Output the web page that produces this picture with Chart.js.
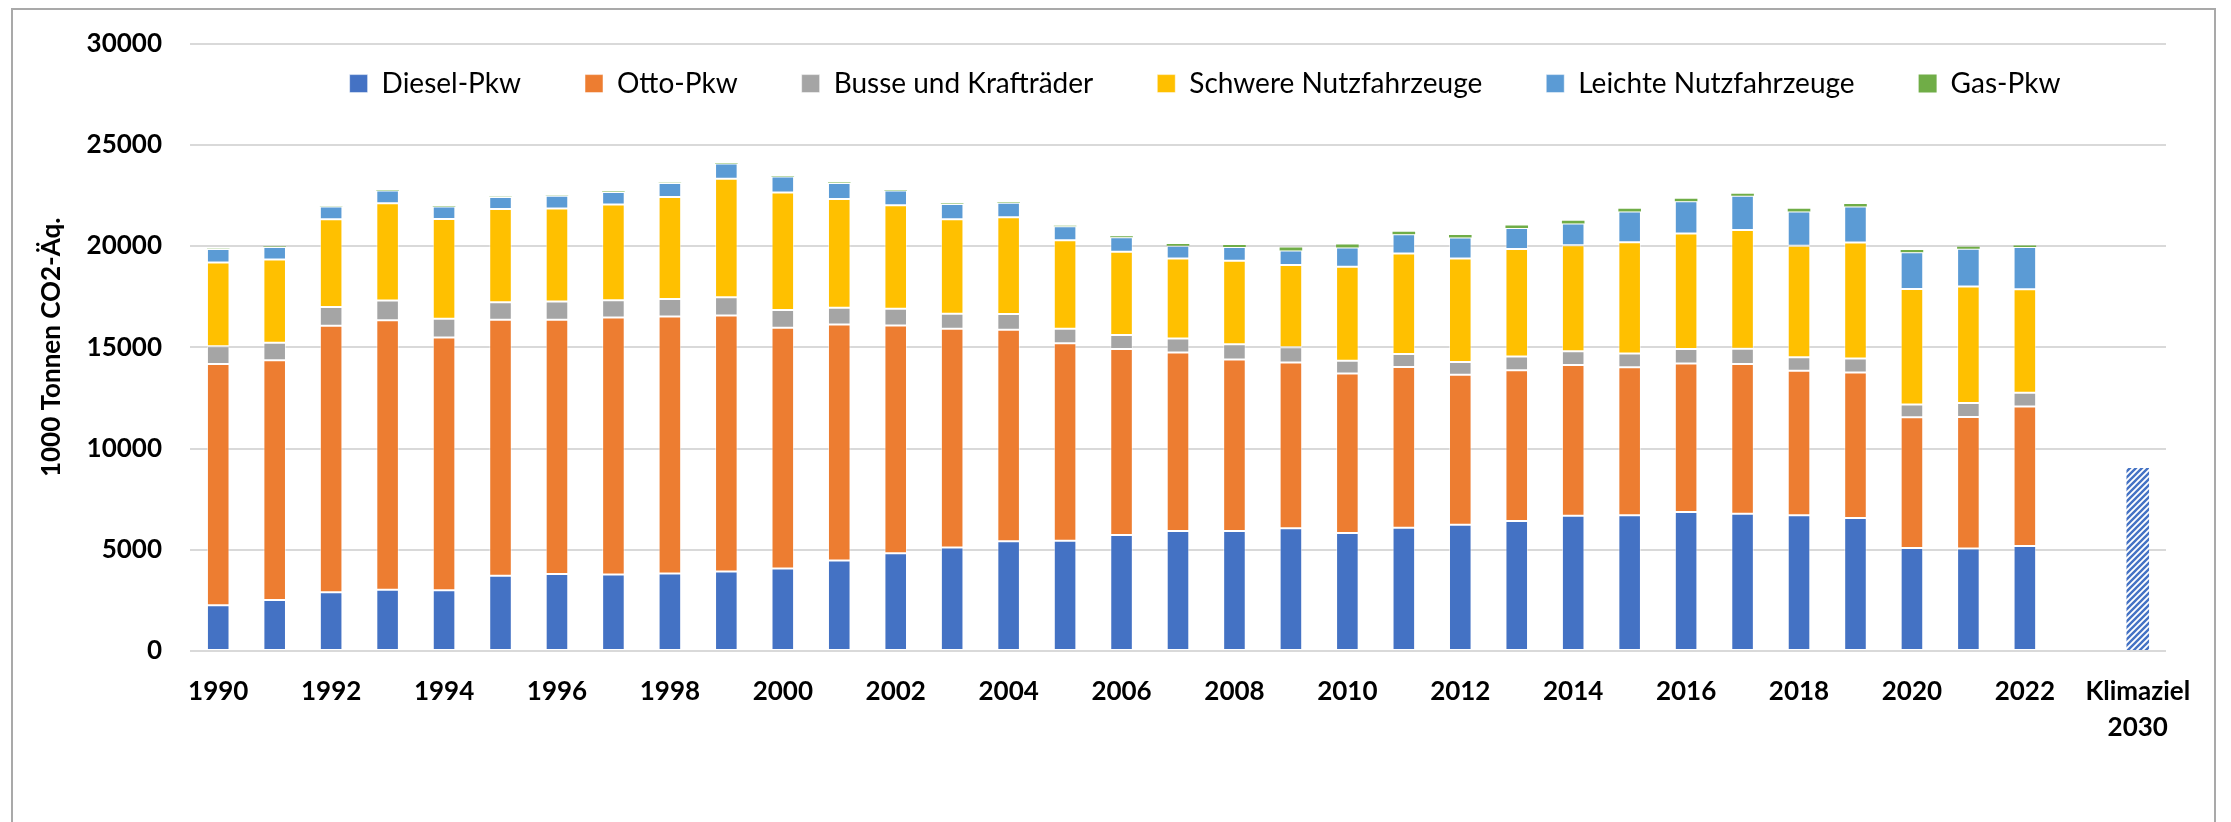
<!DOCTYPE html>
<html lang="de">
<head>
<meta charset="utf-8">
<title>Treibhausgasemissionen Verkehr</title>
<script src="https://cdn.jsdelivr.net/npm/chart.js@4.4.1/dist/chart.umd.min.js"></script>
<style>
  html, body { margin: 0; padding: 0; background: #fff; overflow: hidden; }
  #wrap { position: relative; width: 2231px; height: 822px; }
  #rahmen { position: absolute; left: 11px; top: 8px; width: 2205px; height: 840px;
            border: 2px solid #a9a9a9; box-sizing: border-box; pointer-events: none; }
  canvas { position: absolute; left: 0; top: 0; }
</style>
</head>
<body>
<div id="wrap">
  <div id="rahmen"></div>
  <canvas id="chart" width="2231" height="822"></canvas>
</div>
<script>
// Kategorien (x-Achse)
const jahre = ["1990", "1991", "1992", "1993", "1994", "1995", "1996", "1997", "1998", "1999",
               "2000", "2001", "2002", "2003", "2004", "2005", "2006", "2007", "2008", "2009",
               "2010", "2011", "2012", "2013", "2014", "2015", "2016", "2017", "2018", "2019",
               "2020", "2021", "2022", "", ["Klimaziel", "2030"]];

// Werte in 1000 t CO2-Äq.
const dieselPkw = [2260, 2520, 2900, 3030, 3000, 3720, 3800, 3780, 3830, 3930,
                   4080, 4470, 4830, 5110, 5420, 5440, 5730, 5930, 5930, 6060,
                   5830, 6090, 6240, 6420, 6680, 6700, 6860, 6780, 6700, 6570,
                   5090, 5060, 5190];
const ottoPkw = [11920, 11840, 13170, 13300, 12480, 12640, 12560, 12690, 12690, 12640,
                 11890, 11660, 11250, 10810, 10450, 9760, 9190, 8810, 8470, 8190,
                 7880, 7940, 7400, 7450, 7450, 7320, 7340, 7400, 7140, 7190,
                 6450, 6500, 6880];
const busseKrad = [870, 870, 920, 980, 930, 870, 900, 850, 870, 900,
                   870, 820, 820, 740, 770, 720, 690, 690, 750, 750,
                   620, 640, 640, 670, 670, 670, 720, 750, 670, 690,
                   640, 690, 690];
const schwereNfz = [4140, 4110, 4340, 4800, 4930, 4600, 4600, 4730, 5030, 5860,
                    5800, 5370, 5110, 4670, 4780, 4370, 4110, 3950, 4130, 4060,
                    4650, 4960, 5110, 5320, 5240, 5500, 5700, 5860, 5500, 5730,
                    5700, 5750, 5110];
const leichteNfz = [670, 620, 620, 640, 620, 590, 620, 620, 690, 750,
                    800, 800, 740, 750, 720, 690, 720, 640, 670, 720,
                    950, 950, 1030, 1030, 1080, 1520, 1590, 1700, 1700, 1770,
                    1820, 1870, 2080];
const gasPkw = [10, 20, 20, 20, 20, 20, 20, 20, 20, 20,
                20, 20, 20, 20, 20, 20, 40, 80, 100, 150,
                150, 130, 130, 130, 130, 130, 130, 100, 130, 130,
                100, 100, 80];
const klimaziel = [9040];

// y-Achse
const yTicks = [0, 5000, 10000, 15000, 20000, 25000, 30000];

// schraffiertes Muster fuer den Zielbalken
function schraffur(farbe) {
    const p = document.createElement("canvas");
    p.width = 6; p.height = 6;
    const c = p.getContext("2d");
    c.fillStyle = "#fff";
    c.fillRect(0, 0, 6, 6);
    c.strokeStyle = farbe;
    c.lineWidth = 2.4;
    c.beginPath();
    c.moveTo(0, 6); c.lineTo(6, 0);
    c.moveTo(-3, 3); c.lineTo(3, -3);
    c.moveTo(3, 9); c.lineTo(9, 3);
    c.stroke();
    return c.createPattern(p, "repeat");
}

function serie(name, werte, farbe, rand) {
    return {
        label: name,
        data: werte.concat([null, null]),
        backgroundColor: farbe,
        borderColor: "rgba(255,255,255,0.5)",
        borderWidth: rand,
        borderSkipped: false
    };
}

// Legende liegt wie im Original im Diagrammbereich
const legendeVerschieben = {
    id: "legendeVerschieben",
    afterLayout(chart) {
        const l = chart.legend;
        l.left += 27;
        l.right += 27;
        l.top -= 3;
        l.bottom = l.top + 120;
        l.height = 120;
    }
};

function zeichnen() {
    const ctx = document.getElementById("chart").getContext("2d");

    new Chart(ctx, {
        type: "bar",
        data: {
            labels: jahre,
            datasets: [
                serie("Diesel-Pkw", dieselPkw, "#4472C4", 1),
                serie("Otto-Pkw", ottoPkw, "#ED7D31", 1),
                serie("Busse und Krafträder", busseKrad, "#A5A5A5", 1),
                serie("Schwere Nutzfahrzeuge", schwereNfz, "#FFC000", 1),
                serie("Leichte Nutzfahrzeuge", leichteNfz, "#5B9BD5", 1),
                serie("Gas-Pkw", gasPkw, "#70AD47", 0),
                {
                    label: "Klimaziel",
                    data: jahre.map((j, i) => i === jahre.length - 1 ? klimaziel[0] : null),
                    backgroundColor: schraffur("#4472C4"),
                    borderWidth: 0
                }
            ]
        },
        plugins: [legendeVerschieben],
        options: {
            responsive: false,
            animation: false,
            devicePixelRatio: 1,
            layout: { padding: { top: 4, left: 12, right: 65, bottom: 0 } },
            datasets: { bar: { categoryPercentage: 1, barPercentage: 0.4 } },
            plugins: {
                tooltip: { enabled: false },
                legend: {
                    position: "top",
                    fullSize: false,
                    maxHeight: 35,
                    labels: {
                        boxWidth: 18,
                        boxHeight: 18,
                        padding: 64,
                        color: "#000",
                        font: { family: "Lato", size: 28 },
                        filter: item => item.text !== "Klimaziel"
                    }
                }
            },
            scales: {
                x: {
                    stacked: true,
                    grid: { display: false },
                    border: { display: false },
                    afterFit: scale => { scale.height = 171; },
                    ticks: {
                        autoSkip: false,
                        maxRotation: 0,
                        padding: 15,
                        color: "#000",
                        font: { family: "Lato", size: 26, weight: "bold", lineHeight: 1.38 },
                        callback: function (value, index) {
                            return index % 2 === 0 ? this.getLabelForValue(value) : "";
                        }
                    }
                },
                y: {
                    stacked: true,
                    min: 0,
                    max: 30000,
                    afterFit: scale => { scale.width = 178; },
                    afterBuildTicks: scale => { scale.ticks = yTicks.map(v => ({ value: v })); },
                    grid: { color: "#d9d9d9", lineWidth: 2, drawTicks: false },
                    border: { display: false },
                    title: {
                        display: true,
                        text: "1000 Tonnen CO2-Äq.",
                        color: "#000",
                        padding: { top: 24, bottom: 0 },
                        font: { family: "Lato", size: 26, weight: "bold" }
                    },
                    ticks: {
                        padding: 28,
                        color: "#000",
                        font: { family: "Lato", size: 26, weight: "bold" },
                        callback: value => String(value)
                    }
                }
            }
        }
    });
}

Promise.all([
    document.fonts.load("bold 26px Lato"),
    document.fonts.load("28px Lato")
]).then(zeichnen, zeichnen);
</script>
</body>
</html>
